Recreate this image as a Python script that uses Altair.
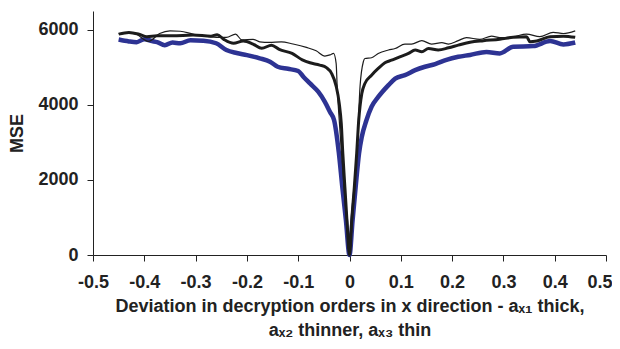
import altair as alt
import pandas as pd

# a_x1 (thick, blue)
x1 = [-0.45, -0.43, -0.415, -0.40, -0.385, -0.375, -0.36, -0.345, -0.33, -0.31, -0.285, -0.26, -0.24,
      -0.22, -0.20, -0.175, -0.155, -0.14, -0.12, -0.10, -0.09, -0.077, -0.061, -0.048, -0.038, -0.03,
      -0.021, -0.014, -0.007, 0.0, 0.006, 0.012, 0.0185, 0.024, 0.033, 0.043, 0.056, 0.076, 0.089, 0.108,
      0.128, 0.147, 0.167, 0.189, 0.212, 0.235, 0.267, 0.293, 0.319, 0.358, 0.391, 0.417, 0.44]
y1 = [5740, 5690, 5670, 5750, 5700, 5670, 5590, 5660, 5640, 5720, 5710, 5640, 5460,
      5380, 5325, 5240, 5150, 5015, 4960, 4900, 4750, 4570, 4350, 4080, 3810, 3590,
      2750, 1810, 925, 0, 925, 1810, 2700, 3150, 3590, 3950, 4210, 4525, 4700, 4790,
      4925, 5015, 5085, 5200, 5280, 5330, 5410, 5370, 5550, 5565, 5700, 5610, 5660]

# a_x2 (thinner, black)
x2 = [-0.45, -0.43, -0.41, -0.395, -0.375, -0.345, -0.305, -0.27, -0.258, -0.245, -0.226, -0.207, -0.188,
      -0.171, -0.152, -0.137, -0.112, -0.092, -0.077, -0.058, -0.045, -0.035, -0.026, -0.02, -0.016,
      -0.013, -0.009, -0.005, 0.0, 0.0043, 0.0094, 0.014, 0.018, 0.024, 0.030, 0.043, 0.056, 0.069, 0.082,
      0.098, 0.115, 0.128, 0.141, 0.154, 0.173, 0.193, 0.212, 0.235, 0.261, 0.293, 0.319, 0.345, 0.352,
      0.365, 0.391, 0.417, 0.44]
y2 = [5885, 5930, 5880, 5815, 5840, 5840, 5860, 5830, 5870, 5745, 5640, 5700, 5620,
      5505, 5590, 5477, 5370, 5200, 5120, 5060, 4990, 4840, 4500, 4040, 3500,
      2700, 1810, 925, 0, 925, 1810, 2700, 3590, 4300, 4570, 4790, 4970, 5120, 5190,
      5280, 5370, 5460, 5415, 5500, 5460, 5520, 5590, 5670, 5710, 5745, 5800, 5815, 5680,
      5700, 5815, 5830, 5800]

# a_x3 (thin, black)
x3 = [-0.45, -0.42, -0.392, -0.37, -0.35, -0.33, -0.304, -0.279, -0.259, -0.24, -0.222, -0.21, -0.188,
      -0.175, -0.156, -0.133, -0.11, -0.084, -0.065, -0.048, -0.038, -0.031, -0.026, -0.024, -0.02,
      -0.016, -0.009, -0.004, 0.0, 0.004, 0.01, 0.016, 0.0205, 0.027, 0.030, 0.043, 0.056, 0.076, 0.089,
      0.108, 0.121, 0.141, 0.16, 0.18, 0.193, 0.212, 0.228, 0.254, 0.277, 0.293, 0.319, 0.345, 0.371,
      0.397, 0.417, 0.44]
y3 = [5900, 5900, 5690, 5900, 5970, 5960, 5880, 5830, 5800, 5800, 5885, 5730, 5745,
      5680, 5665, 5680, 5620, 5530, 5440, 5300, 5330, 5370, 5100, 4480, 3590,
      2790, 1460, 600, 0, 600, 1800, 3200, 4480, 5150, 5235, 5255, 5370, 5460, 5500,
      5620, 5620, 5710, 5620, 5655, 5620, 5710, 5790, 5745, 5830, 5790, 5815, 5885, 5815,
      5930, 5900, 5970]

x_ticks = [-0.5, -0.4, -0.3, -0.2, -0.1, 0, 0.1, 0.2, 0.3, 0.4, 0.5]
y_ticks = [0, 2000, 4000, 6000]
x_title = ["Deviation in decryption orders in x direction - a\u2093\u2081 thick,",
           "a\u2093\u2082 thinner, a\u2093\u2083 thin"]

rows = []
for name, xs, ys in [("ax1", x1, y1), ("ax2", x2, y2), ("ax3", x3, y3)]:
    for i, (a, b) in enumerate(zip(xs, ys)):
        rows.append({"series": name, "x": a, "mse": b, "order": i})
df = pd.DataFrame(rows)

FONT = "Liberation Sans"
INK = "#222222"
FS = 18

x_enc = alt.X("x:Q", scale=alt.Scale(domain=[-0.5, 0.5], nice=False, zero=False),
              axis=alt.Axis(values=x_ticks, grid=False,
                            labelExpr="datum.value == 0 ? '0' : '' + datum.value",
                            labelAlign={"condition": {"test": "datum.value >= 0.5", "value": "right"},
                                        "value": "center"},
                            labelOffset={"condition": {"test": "datum.value >= 0.5", "value": 6},
                                         "value": 0},
                            title=x_title,
                            titleFontSize=FS, titleFontWeight="bold", titleFont=FONT,
                            titleColor=INK, titlePadding=6, titleLineHeight=24.5,
                            labelFontSize=FS, labelFontWeight="bold", labelFont=FONT,
                            labelColor=INK, labelPadding=12, tickSize=6,
                            domainColor=INK, tickColor=INK, labelFlush=False))
y_enc = alt.Y("mse:Q", scale=alt.Scale(domain=[0, 6500], nice=False),
              axis=alt.Axis(values=y_ticks, format="d", grid=False, title="MSE",
                            titleFontSize=FS, titleFontWeight="bold", titleFont=FONT,
                            titleColor=INK, titlePadding=11,
                            labelFontSize=FS, labelFontWeight="bold", labelFont=FONT,
                            labelColor=INK, labelPadding=9, tickSize=6,
                            domainColor=INK, tickColor=INK))

def line(name, color, width):
    return alt.Chart(df).transform_filter(alt.datum.series == name).mark_line(
        color=color, strokeWidth=width, strokeJoin="round", interpolate="monotone"
    ).encode(x=x_enc, y=y_enc, order="order:Q")

chart = alt.layer(
    line("ax1", "#2d3393", 4.5),
    line("ax2", "#1c1c1c", 3.0),
    line("ax3", "#1c1c1c", 1.2),
).properties(
    width=513, height=244,
    autosize=alt.AutoSizeParams(type="none"),
    padding={"left": 85, "top": 3, "right": 6, "bottom": 86},
).configure_view(stroke=None)

chart.save("out.html", embed_options={"renderer": "svg", "actions": False})
